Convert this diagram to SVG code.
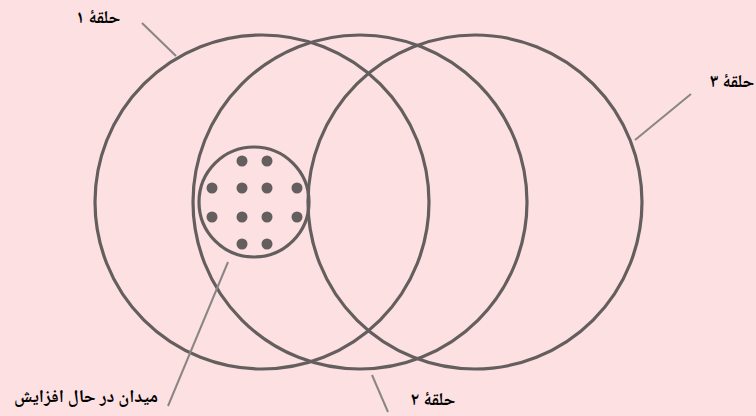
<svg xmlns="http://www.w3.org/2000/svg" width="756" height="416" viewBox="0 0 756 416">
<style>
.ring{fill:none;stroke:#645e5e;stroke-width:3.2}
.lead{fill:none;stroke:#8a8585;stroke-width:2}
.dot{fill:#645e5e}
.lbl{font-family:"Noto Naskh Arabic","Noto Sans Arabic","DejaVu Sans",sans-serif;font-weight:bold;font-size:18px;fill:#000;text-anchor:middle}
</style>
<rect width="756" height="416" fill="#fde0e1"/>
<g id="ring1"><circle class="ring" cx="262" cy="202" r="167"/><text class="lbl" x="98" y="23">حلقهٔ ۱</text></g>
<g id="ring2"><circle class="ring" cx="360" cy="202" r="167"/><text class="lbl" x="433" y="405">حلقهٔ ۲</text></g>
<g id="ring3"><circle class="ring" cx="475" cy="202" r="167"/><text class="lbl" x="732" y="87">حلقهٔ ۳</text></g>
<g id="field">
<circle class="ring" cx="254" cy="202" r="55"/>
<circle class="dot" cx="242" cy="161" r="5.5"/><circle class="dot" cx="267" cy="161" r="5.5"/>
<circle class="dot" cx="212" cy="188" r="5.5"/><circle class="dot" cx="242" cy="188" r="5.5"/><circle class="dot" cx="267" cy="188" r="5.5"/><circle class="dot" cx="297" cy="188" r="5.5"/>
<circle class="dot" cx="212" cy="217" r="5.5"/><circle class="dot" cx="242" cy="217" r="5.5"/><circle class="dot" cx="267" cy="217" r="5.5"/><circle class="dot" cx="297" cy="217" r="5.5"/>
<circle class="dot" cx="242" cy="244" r="5.5"/><circle class="dot" cx="267" cy="244" r="5.5"/>
<text class="lbl" x="86" y="402">میدان در حال افزایش</text>
</g>
<g id="connectors">
<line class="lead" x1="142" y1="23" x2="176" y2="56"/>
<line class="lead" x1="691" y1="94" x2="635" y2="140"/>
<line class="lead" x1="228" y1="262" x2="168" y2="406"/>
<line class="lead" x1="372" y1="375" x2="388" y2="412"/>
</g>
</svg>
